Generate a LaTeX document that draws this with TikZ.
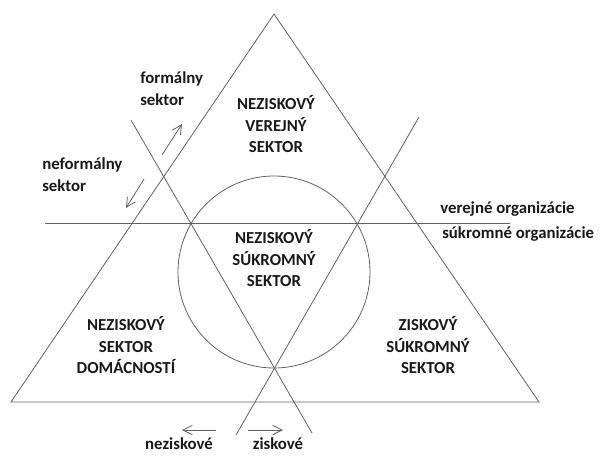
\documentclass[tikz,border=0pt]{standalone}
\usepackage{fontspec}
\setmainfont{Carlito}
\usetikzlibrary{arrows.meta}

\begin{document}
\begin{tikzpicture}[x=0.75pt,y=0.75pt,yscale=-1,xscale=1,
    edge/.style={draw=black!62, line width=0.6pt},
    pointer/.style={edge, -{Straight Barb[length=7pt,width=7pt,line width=0.6pt]}},
    sector/.style={inner sep=0.75pt, align=center, text=black!90,
      font=\fontsize{12.6}{16.4}\selectfont\bfseries},
    note/.style={sector, align=left}]
        \useasboundingbox (0,0) rectangle (610,455);

        %Shape: Triangle
        \coordinate (apex) at (274,14);
        \coordinate (cornerL) at (11,402);
        \coordinate (cornerR) at (539,402);
        \draw [edge] (apex) -- (cornerR) -- (cornerL) -- cycle ;
        %Shape: Circle
        \coordinate (mid) at (274,272);
        \draw [edge] (mid) circle [radius=96] ;
        %Straight Lines
        \coordinate (splitL) at (45,223);
        \coordinate (splitR) at (510,223);
        \draw [edge] (splitL) -- (splitR) ;
        %Straight Lines
        \coordinate (diagA1) at (131,120);
        \coordinate (diagA2) at (312,433);
        \draw [edge] (diagA1) -- (diagA2) ;
        %Straight Lines
        \coordinate (diagB1) at (419,117);
        \coordinate (diagB2) at (236,435);
        \draw [edge] (diagB1) -- (diagB2) ;

        %Arrows
        \coordinate (formT) at (162,155);
        \coordinate (formH) at (182,124);
        \draw [pointer] (formT) -- (formH) ;
        \coordinate (neformT) at (144,179);
        \coordinate (neformH) at (126,208);
        \draw [pointer] (neformT) -- (neformH) ;
        \coordinate (nezT) at (216,430);
        \coordinate (nezH) at (182,430);
        \draw [pointer] (nezT) -- (nezH) ;
        \coordinate (zisT) at (248,430);
        \coordinate (zisH) at (283,430);
        \draw [pointer] (zisT) -- (zisH) ;

        % Text Node
        \node [sector] (verejny) at (276,124) {NEZISKOVÝ\\VEREJNÝ\\SEKTOR};
        % Text Node
        \node [sector] (sukromny) at (274,258) {NEZISKOVÝ\\SÚKROMNÝ\\SEKTOR};
        % Text Node
        \node [sector] (domacnosti) at (126,345) {NEZISKOVÝ\\SEKTOR\\DOMÁCNOSTÍ};
        % Text Node
        \node [sector] (ziskovy) at (428,345) {ZISKOVÝ\\SÚKROMNÝ\\SEKTOR};
        % Text Node
        \node [note, anchor=west] (formalny) at (139,89) {formálny\\sektor};
        % Text Node
        \node [note, anchor=west] (neformalny) at (41,175) {neformálny\\sektor};
        % Text Node
        \node [note, anchor=west] (verejne) at (439,209) {verejné organizácie};
        % Text Node
        \node [note, anchor=west] (sukromne) at (441,234) {súkromné organizácie};
        % Text Node
        \node [note] (neziskove) at (179,444) {neziskové};
        % Text Node
        \node [note] (ziskove) at (278,444) {ziskové};

\end{tikzpicture}
\end{document}
